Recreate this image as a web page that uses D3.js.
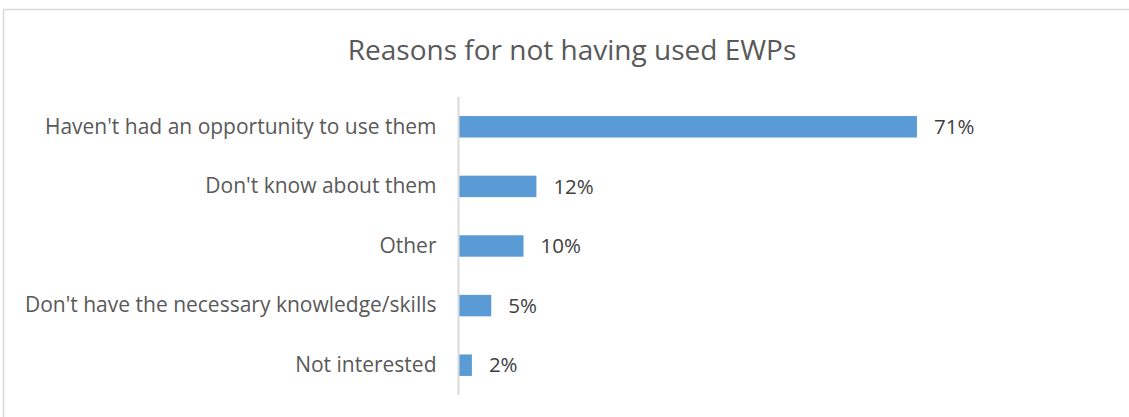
<!DOCTYPE html>
<html>
<head>
<meta charset="utf-8">
<script src="https://cdn.jsdelivr.net/npm/d3@7"></script>
<style>
  html, body { margin: 0; padding: 0; background: #fff; }
  svg { display: block; }
</style>
</head>
<body>
<svg id="chart" width="1129" height="417"></svg>
<script>
// Survey responses: reasons for not having used EWPs
const categories = [
  "Haven't had an opportunity to use them",
  "Don't know about them",
  "Other",
  "Don't have the necessary knowledge/skills",
  "Not interested"
];
const shares = [0.71, 0.12, 0.10, 0.05, 0.02];
const chartTitle = "Reasons for not having used EWPs";

const svg = d3.select("#chart");
const W = 1129, H = 417;

// Chart frame (open to the right and bottom edges)
svg.append("rect")
  .attr("x", 3.5).attr("y", 9.5)
  .attr("width", W + 20).attr("height", H + 20)
  .attr("fill", "#fff")
  .attr("stroke", "#d9d9d9").attr("stroke-width", 1.5);

// Title
svg.append("text")
  .attr("x", 572).attr("y", 60)
  .attr("text-anchor", "middle")
  .attr("font-family", "'Open Sans', sans-serif")
  .attr("font-size", 28)
  .attr("fill", "#595959")
  .text(chartTitle);

const plot = { left: 459, top: 97, bottom: 395 };

const y = d3.scaleBand()
  .domain(categories)
  .range([plot.top, plot.bottom])
  .paddingInner(0.64)
  .paddingOuter(0.32);

const x = d3.scaleLinear()
  .domain([0, 0.8])
  .range([plot.left, plot.left + 516]);

const data = categories.map((c, i) => ({ cat: c, v: shares[i] }));

// Bars
svg.append("g").selectAll("rect")
  .data(data)
  .join("rect")
  .attr("x", x(0))
  .attr("y", d => y(d.cat))
  .attr("width", d => x(d.v) - x(0))
  .attr("height", y.bandwidth())
  .attr("fill", "#5b9bd5");

// Category axis
const yAxis = d3.axisLeft(y).tickSize(0).tickPadding(22);
const gy = svg.append("g")
  .attr("transform", `translate(${plot.left - 0.5},0)`)
  .call(yAxis);
gy.select(".domain")
  .attr("stroke", "#d9d9d9").attr("stroke-width", 2)
  .attr("d", `M0,${plot.top}V${plot.bottom}`);
gy.selectAll(".tick text")
  .attr("font-family", "'Open Sans', sans-serif")
  .attr("font-size", 21)
  .attr("fill", "#595959");

// Value labels
const fmt = d3.format(".0%");
svg.append("g").selectAll("text")
  .data(data)
  .join("text")
  .attr("x", d => x(d.v) + 17)
  .attr("y", d => y(d.cat) + y.bandwidth() / 2)
  .attr("dy", "0.35em")
  .attr("font-family", "'Open Sans', sans-serif")
  .attr("font-size", 20.5)
  .attr("fill", "#404040")
  .text(d => fmt(d.v));
</script>
</body>
</html>
